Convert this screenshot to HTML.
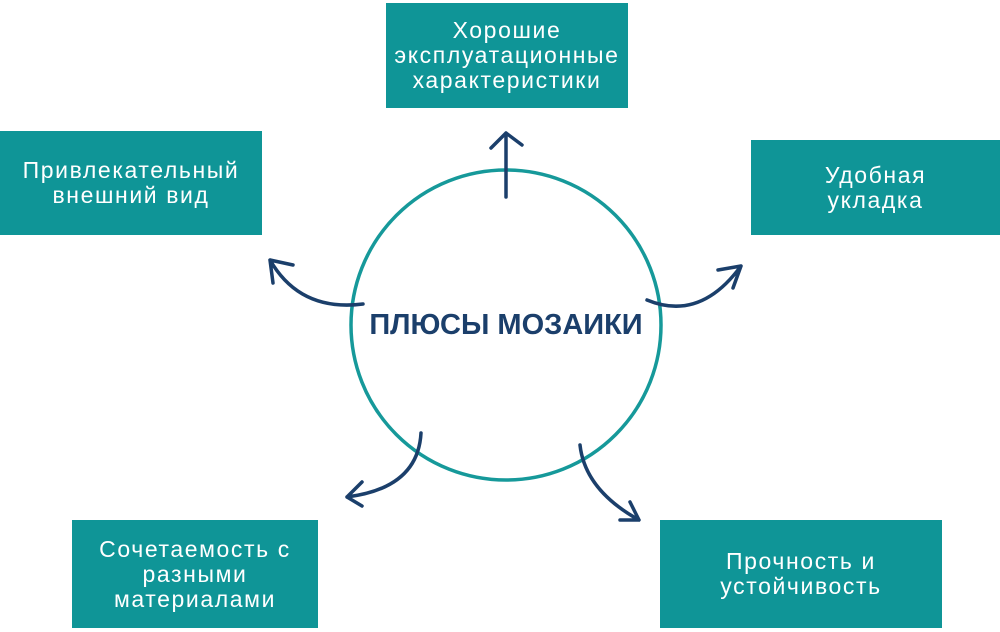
<!DOCTYPE html>
<html><head><meta charset="utf-8"><style>
body{margin:0;width:1000px;height:632px;background:#fff;position:relative;overflow:hidden;font-family:"Liberation Sans",sans-serif}
.b{position:absolute;background:#0f9597;color:#fff;display:flex;align-items:center;justify-content:center;text-align:center;font-size:23px;letter-spacing:1.6px;line-height:25px}
.c{position:absolute;left:340px;top:309px;width:332px;text-align:center;font-weight:bold;font-size:29px;color:#1b3f6b;line-height:32px}
</style></head><body>
<div class="b" style="left:386px;top:3px;width:242px;height:105px">Хорошие<br>эксплуатационные<br>характеристики</div>
<div class="b" style="left:0;top:131px;width:262px;height:104px">Привлекательный<br>внешний вид</div>
<div class="b" style="left:751px;top:140px;width:249px;height:95px">Удобная<br>укладка</div>
<div class="b" style="left:72px;top:520px;width:246px;height:108px">Сочетаемость с<br>разными<br>материалами</div>
<div class="b" style="left:660px;top:520px;width:282px;height:108px">Прочность и<br>устойчивость</div>
<svg width="1000" height="632" style="position:absolute;left:0;top:0">
<circle cx="506" cy="325" r="155" fill="none" stroke="#16999a" stroke-width="3.5"/>
<g fill="none" stroke="#1b3f6b" stroke-width="3.5" stroke-linecap="round" stroke-linejoin="round">
<path d="M506 197 L506 133 M491 148 L506 133 L522 145"/>
<path d="M363 304 Q300 312 270 260 M293 265 L270 260 L273 283"/>
<path d="M647 300 Q700 322 741 266 M718 270 L741 266 L733 288"/>
<path d="M421 433 Q418 488 347 497 M362 482 L347 497 L362 506"/>
<path d="M580 445 Q585 490 639 520 M630 502 L639 520 L620 520"/>
</g></svg>
<div class="c">ПЛЮСЫ МОЗАИКИ</div>
</body></html>
